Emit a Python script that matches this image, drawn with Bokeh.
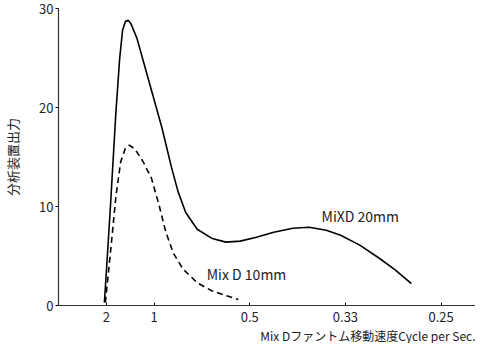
from bokeh.plotting import figure
from bokeh.models import Range1d, FixedTicker, Label, Title
from bokeh.embed import file_html
from bokeh.resources import INLINE

# x positions are the phantom period (sec); tick labels show cycles per sec
tick_period = [0.5, 1, 2, 3, 4]
tick_labels = ["2", "1", "0.5", "0.33", "0.25"]
y_ticks = [0, 10, 20, 30]

mix20_x = [0.48, 0.54, 0.60, 0.64, 0.67, 0.70, 0.73, 0.76, 0.82, 0.95, 1.08, 1.18, 1.25,
           1.33, 1.45, 1.60, 1.75, 1.90, 2.07, 2.25, 2.45, 2.62, 2.80, 2.95, 3.15,
           3.35, 3.52, 3.69]
mix20_y = [0.3, 9.5, 19.5, 25.0, 27.8, 28.7, 28.8, 28.4, 27.0, 22.5, 18.0, 14.0, 11.5,
           9.4, 7.7, 6.8, 6.4, 6.5, 6.9, 7.4, 7.8, 7.9, 7.6, 7.1, 6.1,
           4.8, 3.6, 2.2]

mix10_x = [0.49, 0.55, 0.60, 0.65, 0.70, 0.74, 0.80, 0.88, 0.97, 1.05, 1.12, 1.20,
           1.30, 1.45, 1.60, 1.75, 1.88]
mix10_y = [0.3, 6.0, 11.0, 14.5, 15.9, 16.2, 15.8, 14.6, 12.9, 10.2, 7.5, 5.3,
           3.7, 2.3, 1.5, 1.0, 0.6]

FONT = "'Noto Sans CJK JP', sans-serif"

p = figure(width=475, height=343, output_backend="svg", toolbar_location=None,
           x_range=Range1d(0, 4.36), y_range=Range1d(0, 30),
           min_border_left=50, min_border_right=0, min_border_top=8, min_border_bottom=10)
p.outline_line_color = None
p.grid.visible = False
p.background_fill_color = "white"
p.border_fill_color = "white"

p.line(mix20_x, mix20_y, line_color="black", line_width=1.6)
p.line(mix10_x, mix10_y, line_color="black", line_width=1.6, line_dash="6 4")

xa = p.xaxis[0]
xa.ticker = FixedTicker(ticks=tick_period)
xa.major_label_overrides = {t: l for t, l in zip(tick_period, tick_labels)}
xa.major_tick_in = 3
xa.major_tick_out = 0
xa.minor_tick_line_color = None
xa.axis_line_color = "#333333"
xa.axis_line_width = 1.2
xa.major_label_text_font = FONT
xa.major_label_text_font_size = "13px"
xa.major_label_text_color = "#222222"
xa.major_label_standoff = 6

ya = p.yaxis[0]
ya.ticker = FixedTicker(ticks=y_ticks)
ya.major_tick_in = 0
ya.major_tick_out = 3
ya.minor_tick_line_color = None
ya.axis_line_color = "#333333"
ya.axis_line_width = 1.2
ya.major_label_text_font = FONT
ya.major_label_text_font_size = "13px"
ya.major_label_text_color = "#222222"
ya.major_label_standoff = 2
ya.axis_label = "分析装置出力"
ya.axis_label_text_font = FONT
ya.axis_label_text_font_size = "13px"
ya.axis_label_text_font_style = "normal"
ya.axis_label_text_color = "#222222"
ya.axis_label_standoff = 14

p.add_layout(Title(text="Mix Dファントム移動速度Cycle per Sec.", align="right",
                   text_font=FONT, text_font_size="12px", text_font_style="normal",
                   text_color="#222222", offset=0, standoff=0), "below")

p.add_layout(Label(x=2.75, y=8.0, text="MiXD 20mm", text_font=FONT,
                   text_font_size="14px", text_color="#222222"))
p.add_layout(Label(x=1.55, y=2.2, text="Mix D 10mm", text_font=FONT,
                   text_font_size="14px", text_color="#222222"))

open("out.html", "w").write(file_html(p, INLINE))
